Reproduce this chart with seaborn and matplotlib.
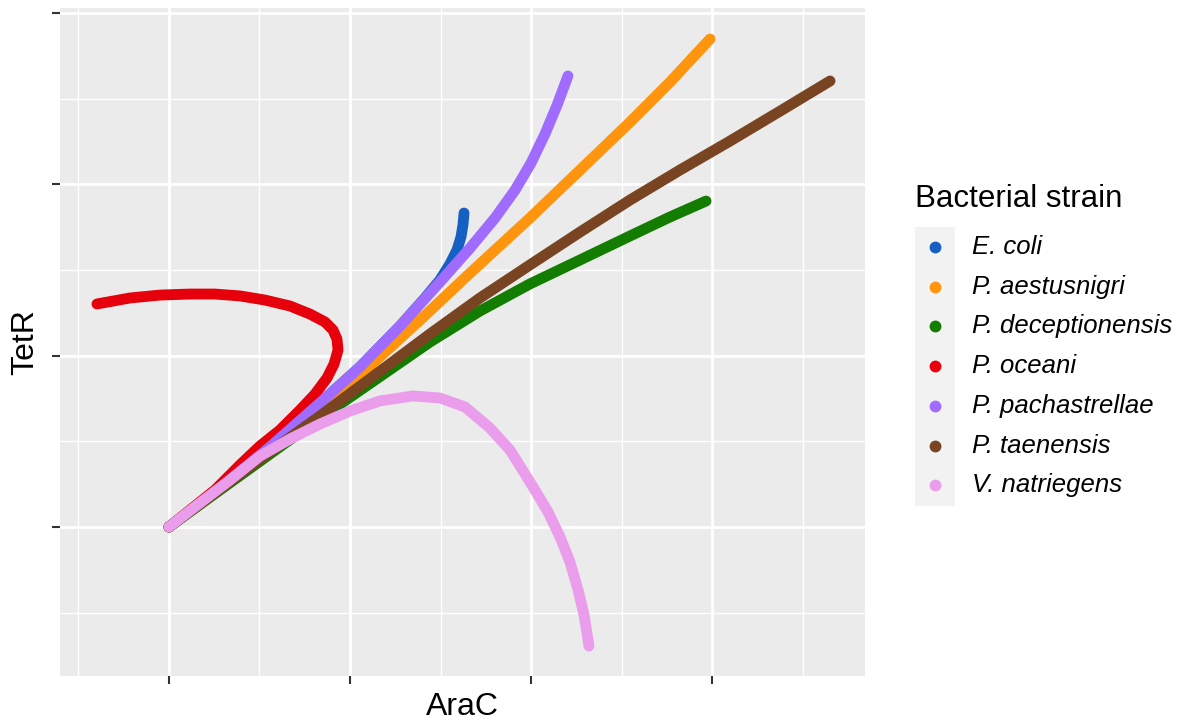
import numpy as np
import pandas as pd
import matplotlib
matplotlib.use("Agg")
import matplotlib.pyplot as plt
import seaborn as sns
from matplotlib.patches import Rectangle

# ---------------- data ----------------
strains = ["E. coli", "P. aestusnigri", "P. deceptionensis", "P. oceani",
           "P. pachastrellae", "P. taenensis", "V. natriegens"]
colors = ["#1660C4", "#FF950E", "#127D00", "#E6000B",
          "#A06CFF", "#784421", "#EA9DEA"]

ecoli_x = [0, 0.282, 0.558, 0.834, 1.055, 1.276, 1.414, 1.497, 1.552, 1.591, 1.613, 1.624, 1.630]
ecoli_y = [0, 0.228, 0.467, 0.724, 0.934, 1.173, 1.337, 1.442, 1.535, 1.617, 1.693, 1.763, 1.833]

aestus_x = [0, 0.282, 0.558, 0.834, 1.110, 1.387, 1.663, 1.994, 2.271, 2.547, 2.768, 2.989]
aestus_y = [0, 0.222, 0.449, 0.683, 0.940, 1.208, 1.482, 1.804, 2.084, 2.364, 2.598, 2.849]

decep_x = [0, 0.282, 0.558, 0.834, 1.138, 1.442, 1.718, 1.994, 2.271, 2.547, 2.768, 2.967]
decep_y = [0, 0.216, 0.426, 0.636, 0.858, 1.080, 1.261, 1.419, 1.559, 1.699, 1.810, 1.903]

oceani_x = [0, 0.116, 0.254, 0.392, 0.503, 0.613, 0.724, 0.807, 0.873, 0.912,
            0.934, 0.928, 0.906, 0.862, 0.779, 0.669, 0.530, 0.392, 0.254,
            0.116, -0.050, -0.215, -0.398]
oceani_y = [0, 0.099, 0.216, 0.362, 0.473, 0.566, 0.683, 0.776, 0.870, 0.952,
            1.033, 1.097, 1.150, 1.197, 1.243, 1.290, 1.325, 1.349, 1.360,
            1.360, 1.354, 1.337, 1.302]

pach_x = [0, 0.282, 0.558, 0.834, 1.055, 1.276, 1.497, 1.663, 1.801, 1.912, 2.000, 2.077, 2.144, 2.204]
pach_y = [0, 0.228, 0.467, 0.724, 0.934, 1.173, 1.430, 1.628, 1.804, 1.967, 2.125, 2.294, 2.463, 2.633]

taen_x = [0, 0.282, 0.558, 0.834, 1.138, 1.442, 1.718, 1.994, 2.271, 2.547, 2.823, 3.099, 3.376, 3.652]
taen_y = [0, 0.222, 0.438, 0.648, 0.887, 1.127, 1.337, 1.530, 1.722, 1.909, 2.084, 2.253, 2.428, 2.604]

natr_x = [0, 0.171, 0.337, 0.503, 0.669, 0.834, 1.000, 1.166, 1.348, 1.497, 1.635,
          1.773, 1.884, 2.011, 2.094, 2.160, 2.215, 2.260, 2.293, 2.320]
natr_y = [0, 0.140, 0.274, 0.414, 0.514, 0.601, 0.677, 0.736, 0.765, 0.753, 0.701,
          0.578, 0.449, 0.234, 0.088, -0.058, -0.204, -0.368, -0.514, -0.695]

series_x = [ecoli_x, aestus_x, decep_x, oceani_x, pach_x, taen_x, natr_x]
series_y = [ecoli_y, aestus_y, decep_y, oceani_y, pach_y, taen_y, natr_y]

frames = []
for s, xs, ys in zip(strains, series_x, series_y):
    frames.append(pd.DataFrame({"AraC": xs, "TetR": ys, "strain": s}))
df = pd.concat(frames, ignore_index=True)
palette = dict(zip(strains, colors))

# ---------------- style ----------------
sns.set_theme(style="darkgrid")
plt.rcParams["font.family"] = ["Liberation Sans", "DejaVu Sans"]

W, H = 1184, 722
fig = plt.figure(figsize=(W / 100, H / 100), dpi=100)
fig.patch.set_facecolor("white")

px0, px1, py0, py1 = 60, 865, 8, 676
ax = fig.add_axes([px0 / W, 1 - py1 / H, (px1 - px0) / W, (py1 - py0) / H])
ax.set_facecolor("#EBEBEB")

sns.lineplot(data=df, x="AraC", y="TetR", hue="strain", units="strain",
             estimator=None, sort=False, palette=palette, hue_order=strains,
             linewidth=7.8, legend=False, ax=ax,
             solid_capstyle="round", solid_joinstyle="round")

ax.set_xlim(-0.602, 3.845)
ax.set_ylim(-0.870, 3.030)
ax.set_xticks([0, 1, 2, 3])
ax.set_yticks([0, 1, 2, 3])
ax.set_xticks([-0.5, 0.5, 1.5, 2.5, 3.5], minor=True)
ax.set_yticks([-0.5, 0.5, 1.5, 2.5], minor=True)
ax.set_xticklabels([])
ax.set_yticklabels([])
ax.grid(which="major", color="white", linewidth=2.0)
ax.grid(which="minor", color="white", linewidth=1.0)
ax.tick_params(which="major", length=6, width=1.5, color="#333333",
               bottom=True, left=True, direction="out")
ax.tick_params(which="minor", length=0)
for sp in ax.spines.values():
    sp.set_visible(False)
ax.set_axisbelow(True)

ax.set_xlabel("AraC", fontsize=23, color="black")
ax.set_ylabel("TetR", fontsize=23, color="black")
ax.xaxis.set_label_coords(0.5, -0.024)
ax.yaxis.set_label_coords(-0.024, 0.5)

# ---------------- legend (ggplot-like) ----------------
lax = fig.add_axes([0, 0, 1, 1], facecolor="none")
lax.set_xlim(0, W)
lax.set_ylim(H, 0)
lax.axis("off")
lax.text(915, 199, "Bacterial strain", fontsize=22.5, va="center",
         ha="left", color="black")
lax.add_patch(Rectangle((915, 227), 40, 279, facecolor="#F2F2F2",
                        edgecolor="none"))
key_y = [247, 287, 326, 366, 406, 446, 485]
for s, c, yy in zip(strains, colors, key_y):
    lax.plot([935], [yy], marker="o", markersize=7.5, color=c,
             linestyle="none")
    lax.text(972, yy, s, fontsize=18.5, style="italic", va="center",
             ha="left", color="black")

fig.savefig("out.png", dpi=100)
